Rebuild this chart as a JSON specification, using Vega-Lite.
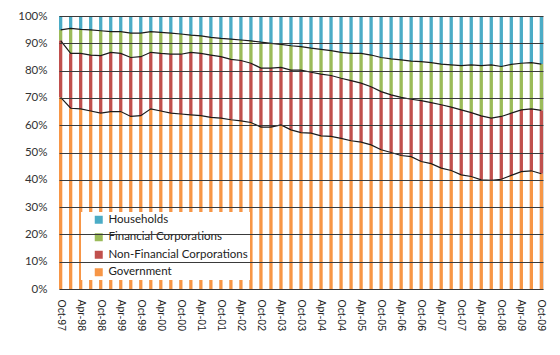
{
  "$schema": "https://vega.github.io/schema/vega-lite/v6.json",
  "width": 484,
  "height": 273,
  "autosize": {"type": "none"},
  "padding": {"left": 59, "top": 16, "right": 16, "bottom": 66},
  "background": "white",
  "config": {"view": {"stroke": "#d9d9d9"}},
  "data": {"values": [
    {"q":"Oct-97","Government":70.2,"Non-Financial Corporations":20.8,"Financial Corporations":3.9,"Households":5.1},
    {"q":"Jan-98","Government":66.2,"Non-Financial Corporations":20.1,"Financial Corporations":9.2,"Households":4.5},
    {"q":"Apr-98","Government":66.0,"Non-Financial Corporations":20.3,"Financial Corporations":8.8,"Households":4.9},
    {"q":"Jul-98","Government":65.2,"Non-Financial Corporations":20.5,"Financial Corporations":9.2,"Households":5.1},
    {"q":"Oct-98","Government":64.4,"Non-Financial Corporations":21.1,"Financial Corporations":9.1,"Households":5.4},
    {"q":"Jan-99","Government":65.0,"Non-Financial Corporations":21.7,"Financial Corporations":7.6,"Households":5.7},
    {"q":"Apr-99","Government":65.0,"Non-Financial Corporations":21.3,"Financial Corporations":8.0,"Households":5.7},
    {"q":"Jul-99","Government":63.2,"Non-Financial Corporations":21.6,"Financial Corporations":8.9,"Households":6.3},
    {"q":"Oct-99","Government":63.5,"Non-Financial Corporations":21.6,"Financial Corporations":8.6,"Households":6.3},
    {"q":"Jan-00","Government":66.0,"Non-Financial Corporations":20.7,"Financial Corporations":7.6,"Households":5.7},
    {"q":"Apr-00","Government":65.2,"Non-Financial Corporations":21.1,"Financial Corporations":7.7,"Households":6.0},
    {"q":"Jul-00","Government":64.4,"Non-Financial Corporations":21.6,"Financial Corporations":7.7,"Households":6.3},
    {"q":"Oct-00","Government":64.1,"Non-Financial Corporations":21.9,"Financial Corporations":7.4,"Households":6.6},
    {"q":"Jan-01","Government":63.8,"Non-Financial Corporations":22.9,"Financial Corporations":6.3,"Households":7.0},
    {"q":"Apr-01","Government":63.5,"Non-Financial Corporations":22.8,"Financial Corporations":6.4,"Households":7.3},
    {"q":"Jul-01","Government":62.9,"Non-Financial Corporations":22.8,"Financial Corporations":6.5,"Households":7.8},
    {"q":"Oct-01","Government":62.6,"Non-Financial Corporations":22.5,"Financial Corporations":6.7,"Households":8.2},
    {"q":"Jan-02","Government":62.0,"Non-Financial Corporations":22.1,"Financial Corporations":7.4,"Households":8.5},
    {"q":"Apr-02","Government":61.6,"Non-Financial Corporations":22.1,"Financial Corporations":7.5,"Households":8.8},
    {"q":"Jul-02","Government":61.0,"Non-Financial Corporations":21.7,"Financial Corporations":8.2,"Households":9.1},
    {"q":"Oct-02","Government":59.3,"Non-Financial Corporations":21.6,"Financial Corporations":9.5,"Households":9.6},
    {"q":"Jan-03","Government":59.3,"Non-Financial Corporations":21.6,"Financial Corporations":9.1,"Households":10.0},
    {"q":"Apr-03","Government":60.1,"Non-Financial Corporations":21.1,"Financial Corporations":8.4,"Households":10.4},
    {"q":"Jul-03","Government":58.3,"Non-Financial Corporations":21.9,"Financial Corporations":8.9,"Households":10.9},
    {"q":"Oct-03","Government":57.3,"Non-Financial Corporations":22.9,"Financial Corporations":8.6,"Households":11.2},
    {"q":"Jan-04","Government":57.1,"Non-Financial Corporations":22.3,"Financial Corporations":8.8,"Households":11.8},
    {"q":"Apr-04","Government":56.1,"Non-Financial Corporations":22.6,"Financial Corporations":9.1,"Households":12.2},
    {"q":"Jul-04","Government":55.9,"Non-Financial Corporations":22.3,"Financial Corporations":9.1,"Households":12.7},
    {"q":"Oct-04","Government":55.2,"Non-Financial Corporations":22.0,"Financial Corporations":9.5,"Households":13.3},
    {"q":"Jan-05","Government":54.3,"Non-Financial Corporations":22.0,"Financial Corporations":10.0,"Households":13.7},
    {"q":"Apr-05","Government":53.8,"Non-Financial Corporations":21.6,"Financial Corporations":10.9,"Households":13.7},
    {"q":"Jul-05","Government":52.8,"Non-Financial Corporations":21.3,"Financial Corporations":11.6,"Households":14.3},
    {"q":"Oct-05","Government":51.0,"Non-Financial Corporations":21.3,"Financial Corporations":12.5,"Households":15.2},
    {"q":"Jan-06","Government":50.0,"Non-Financial Corporations":21.1,"Financial Corporations":13.2,"Households":15.7},
    {"q":"Apr-06","Government":48.9,"Non-Financial Corporations":21.3,"Financial Corporations":13.7,"Households":16.1},
    {"q":"Jul-06","Government":48.5,"Non-Financial Corporations":21.0,"Financial Corporations":14.0,"Households":16.5},
    {"q":"Oct-06","Government":46.7,"Non-Financial Corporations":22.3,"Financial Corporations":14.3,"Households":16.7},
    {"q":"Jan-07","Government":45.9,"Non-Financial Corporations":22.4,"Financial Corporations":14.6,"Households":17.1},
    {"q":"Apr-07","Government":44.3,"Non-Financial Corporations":23.2,"Financial Corporations":14.9,"Households":17.6},
    {"q":"Jul-07","Government":43.4,"Non-Financial Corporations":23.2,"Financial Corporations":15.5,"Households":17.9},
    {"q":"Oct-07","Government":41.8,"Non-Financial Corporations":23.8,"Financial Corporations":16.2,"Households":18.2},
    {"q":"Jan-08","Government":41.2,"Non-Financial Corporations":23.4,"Financial Corporations":17.5,"Households":17.9},
    {"q":"Apr-08","Government":40.0,"Non-Financial Corporations":23.4,"Financial Corporations":18.4,"Households":18.2},
    {"q":"Jul-08","Government":39.8,"Non-Financial Corporations":22.8,"Financial Corporations":19.5,"Households":17.9},
    {"q":"Oct-08","Government":40.2,"Non-Financial Corporations":23.0,"Financial Corporations":18.3,"Households":18.5},
    {"q":"Jan-09","Government":41.6,"Non-Financial Corporations":22.8,"Financial Corporations":17.9,"Households":17.7},
    {"q":"Apr-09","Government":43.0,"Non-Financial Corporations":22.6,"Financial Corporations":17.1,"Households":17.3},
    {"q":"Jul-09","Government":43.3,"Non-Financial Corporations":22.7,"Financial Corporations":16.9,"Households":17.1},
    {"q":"Oct-09","Government":42.2,"Non-Financial Corporations":23.2,"Financial Corporations":17.0,"Households":17.6}
  ]},
  "transform": [
    {"fold": ["Households", "Financial Corporations", "Non-Financial Corporations", "Government"], "as": ["key", "value"]},
    {"calculate": "indexof(['Government','Non-Financial Corporations','Financial Corporations','Households'], datum.key)", "as": "k"},
    {"stack": "value", "groupby": ["q"], "sort": [{"field": "k", "order": "ascending"}], "as": ["v0", "v1"]}
  ],
  "encoding": {
    "x": {
      "field": "q", "type": "ordinal", "sort": null,
      "scale": {"paddingInner": 0.67, "paddingOuter": 0},
      "axis": {
        "title": null, "ticks": false, "tickSize": 0, "labelAngle": 90, "labelFont": "Liberation Sans",
        "labelFontSize": 10.5, "labelColor": "#222", "labelPadding": 10, "domainColor": "#bfbfbf",
        "grid": false,
        "values": ["Oct-97","Apr-98","Oct-98","Apr-99","Oct-99","Apr-00","Oct-00","Apr-01","Oct-01","Apr-02","Oct-02","Apr-03","Oct-03","Apr-04","Oct-04","Apr-05","Oct-05","Apr-06","Oct-06","Apr-07","Oct-07","Apr-08","Oct-08","Apr-09","Oct-09"]
      }
    },
    "y": {
      "field": "v1", "type": "quantitative",
      "scale": {"domain": [0, 100], "nice": false},
      "axis": {
        "title": null, "values": [0,10,20,30,40,50,60,70,80,90,100], "labelExpr": "datum.value + '%'",
        "grid": true, "gridColor": "#3a3a3a", "gridWidth": 1, "domain": false, "ticks": false,
        "labelPadding": 12, "labelFont": "Lato", "labelFontSize": 11.5, "labelColor": "#333", "zindex": 1
      }
    }
  },
  "layer": [
    {
      "mark": {"type": "bar"},
      "encoding": {
        "y2": {"field": "v0"},
        "color": {
          "field": "key", "type": "nominal",
          "sort": ["Households", "Financial Corporations", "Non-Financial Corporations", "Government"],
          "scale": {
            "domain": ["Households", "Financial Corporations", "Non-Financial Corporations", "Government"],
            "range": ["#4BACC6", "#9BBB59", "#C0504D", "#F79646"]
          },
          "legend": {
            "title": null, "orient": "none", "legendX": 22, "legendY": 196,
            "fillColor": "white", "padding": 2, "symbolOffset": 10, "symbolType": "square",
            "symbolSize": 64, "symbolStrokeWidth": 0, "labelFont": "Lato", "labelFontSize": 11.5,
            "labelColor": "#222", "rowPadding": 4.5, "labelOffset": 4
          }
        }
      }
    },
    {
      "transform": [{"filter": "datum.key != 'Households'"}],
      "mark": {"type": "line", "strokeWidth": 1.2, "color": "#1a1a1a"},
      "encoding": {
        "detail": {"field": "key", "type": "nominal"}
      }
    }
  ]
}
